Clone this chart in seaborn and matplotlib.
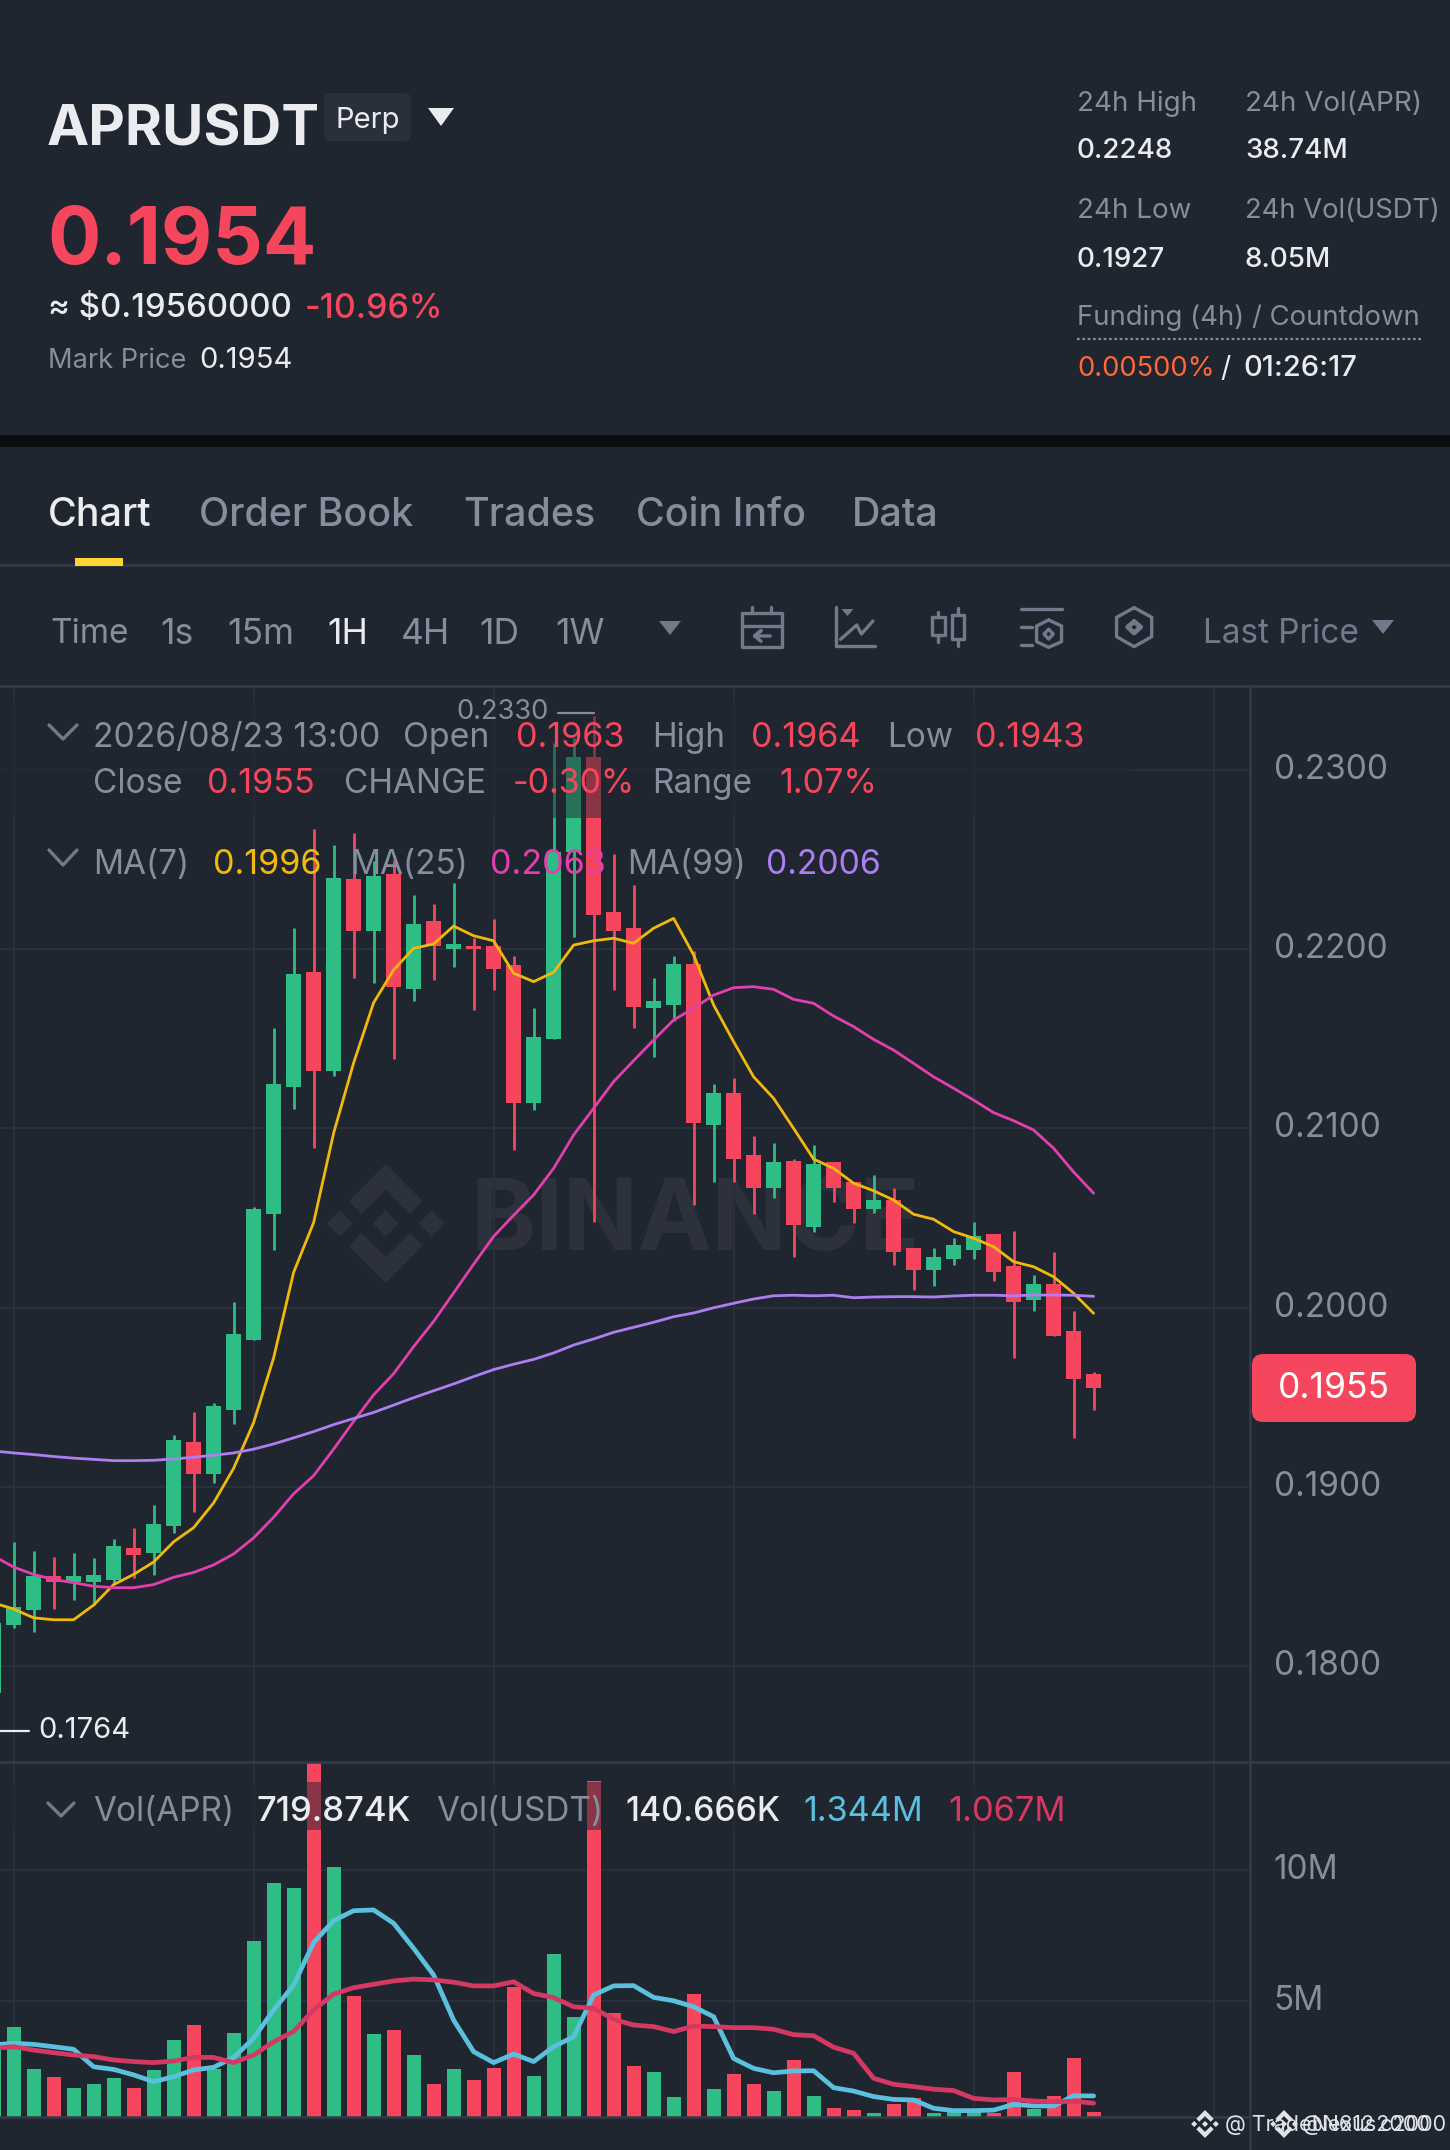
import numpy as np
import pandas as pd
import seaborn as sns
import matplotlib
import matplotlib.pyplot as plt
from matplotlib.patches import Polygon, Rectangle, FancyBboxPatch

matplotlib.use('Agg')

# hourly candles, first one is mostly cut off by the left edge
candle_idx = list(range(-1, 55))
candle_open = [.1785, .1823, .1831, .1850, .1847, .1847, .1848, .1866, .1863, .1878, .1925, .1907, .1943, .1982,
               .2052, .2123, .2187, .2132, .2239, .2210, .2242, .2178, .2216, .2200, .2202, .2202, .2191, .2114,
               .2150, .2254, .2307, .2221, .2212, .2167, .2169, .2192, .2102, .2120, .2085, .2067, .2082, .2045,
               .2081, .2070, .2055, .2060, .2033, .2021, .2027, .2032, .2041, .2023, .2004, .2013, .1987, .1963]
candle_high = [.1829, .1869, .1864, .1861, .1863, .1860, .1871, .1877, .1890, .1929, .1942, .1947, .2003, .2056,
               .2156, .2212, .2267, .2258, .2265, .2249, .2250, .2230, .2225, .2237, .2206, .2217, .2196, .2167,
               .2315, .2318, .2330, .2253, .2236, .2184, .2196, .2199, .2125, .2128, .2096, .2092, .2083, .2091,
               .2081, .2070, .2074, .2067, .2033, .2033, .2039, .2048, .2041, .2043, .2018, .2031, .1998, .1964]
candle_low = [.1764, .1821, .1819, .1832, .1837, .1834, .1846, .1849, .1851, .1874, .1886, .1902, .1935, .1982,
              .2032, .2111, .2089, .2129, .2184, .2181, .2139, .2171, .2183, .2190, .2166, .2177, .2088, .2110,
              .2150, .2207, .2048, .2177, .2156, .2140, .2160, .2057, .2070, .2070, .2052, .2061, .2028, .2042,
              .2059, .2047, .2053, .2024, .2010, .2012, .2024, .2027, .2015, .1972, .1998, .1984, .1927, .1943]
candle_close = [.1824, .1833, .1850, .1847, .1850, .1851, .1867, .1862, .1879, .1926, .1907, .1945, .1985, .2055,
                .2125, .2186, .2132, .2240, .2210, .2241, .2179, .2214, .2202, .2203, .2200, .2189, .2114, .2151,
                .2254, .2307, .2219, .2210, .2168, .2171, .2192, .2103, .2120, .2083, .2067, .2081, .2046, .2080,
                .2067, .2055, .2060, .2031, .2021, .2028, .2035, .2040, .2020, .2003, .2013, .1984, .1960, .1955]

ma7 = [.18352, .18318, .18269, .18258, .18258, .18340, .18454, .18511, .18580, .18693, .18772, .18910, .19103, .19358,
       .19719, .20196, .20474, .20973, .21365, .21701, .21884, .22005, .22029, .22129, .22075, .22047, .21866, .21819,
       .21871, .22023, .22047, .22061, .22033, .22117, .22172, .21968, .21689, .21484, .21288, .21168, .21000, .20829,
       .20777, .20694, .20652, .20600, .20521, .20493, .20424, .20387, .20340, .20256, .20228, .20172, .20080, .19968]
ma25 = [.18614, .18552, .18511, .18483, .18465, .18445, .18437, .18437, .18454, .18495, .18522, .18564, .18625, .18715,
        .18830, .18961, .19062, .19210, .19365, .19513, .19631, .19782, .19923, .20082, .20242, .20397, .20515, .20629,
        .20777, .20963, .21112, .21261, .21378, .21493, .21605, .21670, .21744, .21785, .21791, .21776, .21720, .21698,
        .21627, .21568, .21497, .21437, .21363, .21288, .21224, .21158, .21088, .21043, .20991, .20889, .20757, .20638]
ma99 = [.19200, .19189, .19180, .19169, .19160, .19153, .19146, .19146, .19148, .19155, .19165, .19176, .19189, .19210,
        .19239, .19273, .19308, .19347, .19381, .19415, .19456, .19497, .19536, .19574, .19615, .19654, .19684, .19711,
        .19747, .19791, .19825, .19862, .19890, .19918, .19949, .19970, .19999, .20024, .20048, .20066, .20069, .20066,
        .20069, .20055, .20059, .20061, .20061, .20059, .20065, .20069, .20069, .20066, .20070, .20070, .20069, .20063]

# volume in millions
volume = [3.23, 3.97, 2.36, 2.06, 1.66, 1.79, 2.02, 1.66, 2.34, 3.47, 4.05, 2.36, 3.75, 7.28, 9.49, 9.31, 14.09, 10.13,
          5.18, 3.73, 3.87, 2.91, 1.79, 2.38, 1.95, 2.41, 5.53, 2.09, 6.78, 4.36, 13.41, 4.53, 2.49, 2.25, 1.32, 5.26,
          1.60, 2.20, 1.79, 1.52, 2.72, 1.35, 0.87, 0.80, 0.68, 1.02, 1.26, 0.70, 0.74, 0.74, 0.70, 2.25, 0.84, 1.34,
          2.78, 0.72]
vol_ma_fast = [3.30, 3.36, 3.32, 3.23, 3.13, 2.46, 2.36, 2.15, 1.89, 2.08, 2.34, 2.44, 2.82, 3.55, 4.64, 5.59, 7.22,
               8.06, 8.44, 8.47, 7.96, 7.00, 5.98, 4.25, 3.04, 2.62, 2.95, 2.66, 3.23, 3.61, 5.21, 5.56, 5.57, 5.12,
               4.99, 4.76, 4.38, 2.78, 2.40, 2.23, 2.30, 2.31, 1.66, 1.53, 1.32, 1.21, 1.19, 0.87, 0.78, 0.78, 0.80,
               1.02, 0.96, 0.96, 1.35, 1.344]
vol_ma_slow = [3.17, 3.23, 3.10, 3.00, 2.91, 2.85, 2.72, 2.66, 2.62, 2.68, 2.82, 2.82, 2.62, 2.91, 3.42, 3.81, 4.64,
               5.24, 5.49, 5.62, 5.75, 5.82, 5.79, 5.70, 5.56, 5.56, 5.72, 5.27, 5.11, 4.76, 4.70, 4.28, 4.06, 4.00,
               3.81, 4.02, 4.00, 3.96, 3.96, 3.90, 3.69, 3.65, 3.21, 2.98, 2.02, 1.79, 1.70, 1.60, 1.55, 1.25, 1.19,
               1.21, 1.15, 1.12, 1.14, 1.067]

price_ticks = [.18, .19, .20, .21, .22, .23]
price_tick_labels = ['0.1800', '0.1900', '0.2000', '0.2100', '0.2200', '0.2300']
vol_ticks = [5, 10]
vol_tick_labels = ['5M', '10M']
grid_idx = [0, 12, 24, 36, 48, 60]

BG = '#1f2630'
GRID = '#2a303b'
LINE = '#343a47'
RED = '#f6465d'
GREEN = '#2ebd85'
GRAY = '#848e9c'
WHITE = '#eaecef'
YELLOW = '#f0b90b'
PINK = '#e33fae'
PURPLE = '#ad7ef0'
ICON = '#707a8a'
MARK = '#2c313c'
VOL_BLUE = '#5bc0de'
VOL_RED = '#d63864'

sns.set_theme(style='dark', rc={'figure.facecolor': BG, 'axes.facecolor': BG, 'savefig.facecolor': BG})
plt.rcParams['font.family'] = ['Inter', 'DejaVu Sans']

W, H = 1450, 2150
fig = plt.figure(figsize=(W / 100, H / 100), dpi=100)


def panel(top, bottom):
    return fig.add_axes([0, 1 - bottom / H, 1250 / W, (bottom - top) / H])


ax = panel(686, 1762)
vax = panel(1762, 2117)
ui = fig.add_axes([0, 0, 1, 1], zorder=5)
ui.set_xlim(0, W)
ui.set_ylim(H, 0)
ui.axis('off')
ui.patch.set_alpha(0)


def put(x, y, s, color=GRAY, size=24, weight='normal', ha='left'):
    ui.text(x, y + 3, s, color=color, fontsize=size, fontweight=weight, ha=ha, va='center')


def logo(target, cx, cy, scale, color, z=0.5):
    """Binance mark, scale 1 is 119 px tall"""
    top = [(0, -59.6), (36.8, -22.4), (24.3, -9.4), (0, -33.5), (-24.3, -9.4), (-36.8, -22.4)]
    bottom = [(x, -y) for x, y in top]
    diamonds = [[(dx - 13, 0), (dx, -13), (dx + 13, 0), (dx, 13)] for dx in (-46, 0, 46)]
    for shape in [top, bottom] + diamonds:
        pts = [(cx + x * scale, cy + y * scale) for x, y in shape]
        target.add_patch(Polygon(pts, closed=True, fc=color, ec='none', transform=ui.transData, zorder=z))


# price panel
idx = np.array(candle_idx)
c_open = np.array(candle_open)
c_close = np.array(candle_close)
colors = [GREEN if c >= o else RED for o, c in zip(c_open, c_close)]

logo(ax, 385.7, 1223.5, 1.0, MARK)
ax.text(471, 1224, 'BINANCE', color=MARK, fontsize=71, fontweight='bold', va='center', ha='left',
        transform=ui.transData, zorder=0.5, clip_on=True)
ax.vlines(idx, candle_low, candle_high, colors=colors, linewidth=2.0, zorder=2)
ax.bar(idx, np.abs(c_close - c_open), bottom=np.minimum(c_open, c_close), width=0.715, color=colors,
       edgecolor='none', linewidth=0, zorder=2)
sns.lineplot(x=idx, y=ma7, color=YELLOW, linewidth=2.0, errorbar=None, ax=ax, zorder=3)
sns.lineplot(x=idx, y=ma25, color=PINK, linewidth=2.0, errorbar=None, ax=ax, zorder=3)
sns.lineplot(x=idx, y=ma99, color=PURPLE, linewidth=2.0, errorbar=None, ax=ax, zorder=3)
ax.set_ylim(.23 - 992 / 17920, .23 + 84 / 17920)
ax.set_yticks(price_ticks, price_tick_labels)
ax.add_patch(Rectangle((0, 700), 1135, 118, fc=BG, alpha=0.5, ec='none', transform=ui.transData, zorder=4))

# volume panel
vol_df = pd.DataFrame({'idx': candle_idx, 'vol': volume,
                       'side': ['up' if c == GREEN else 'down' for c in colors]})
sns.barplot(data=vol_df, x='idx', y='vol', hue='side', palette={'up': GREEN, 'down': RED}, native_scale=True,
            dodge=False, width=0.7, saturation=1, legend=False, ax=vax, zorder=2, edgecolor='none', linewidth=0)
sns.lineplot(x=idx, y=vol_ma_fast, color=VOL_BLUE, linewidth=3.4, errorbar=None, ax=vax, zorder=3)
sns.lineplot(x=idx, y=vol_ma_slow, color=VOL_RED, linewidth=3.4, errorbar=None, ax=vax, zorder=3)
vax.set_ylim((2131 - 2117) / 26.1, (2131 - 1762) / 26.1)
vax.set_yticks(vol_ticks, vol_tick_labels)
vax.add_patch(Rectangle((0, 1782), 1105, 48, fc=BG, alpha=0.5, ec='none', transform=ui.transData, zorder=4))

for a in (ax, vax):
    a.set_xlim(-0.68, 61.82)
    a.set_xticks(grid_idx)
    a.tick_params(axis='x', length=0, labelbottom=False)
    a.yaxis.tick_right()
    a.tick_params(axis='y', length=0, pad=17, labelsize=24, labelcolor=GRAY)
    for lab in a.get_yticklabels():
        lab.set_va('center')
    a.grid(True, color=GRID, linewidth=1.5, zorder=0)
    a.set_axisbelow(True)
    a.set_xlabel('')
    a.set_ylabel('')
    for side in a.spines:
        a.spines[side].set_visible(False)

# header
ui.add_patch(Rectangle((0, 435), W, 12, fc='#0a0d0f', ec='none'))
put(47, 128, 'APRUSDT', WHITE, 40.7, 'bold')
ui.add_patch(FancyBboxPatch((324, 93), 87, 48, boxstyle='round,pad=0,rounding_size=6', fc='#292f3b', ec='none'))
put(367.5, 118, 'Perp', WHITE, 21, ha='center')
ui.add_patch(Polygon([(428, 108), (454, 108), (441, 126)], closed=True, fc=WHITE, ec='none', joinstyle='round'))
put(47, 240, '0.1954', RED, 57, 'bold')
put(48, 306, '≈ $0.19560000', WHITE, 23.7, 'medium')
put(305, 306, '-10.96%', RED, 24.4, 'medium')
put(48, 358, 'Mark Price', GRAY, 19.6)
put(199, 358, '0.1954', WHITE, 21)

put(1077, 101, '24h High', GRAY, 20)
put(1245, 101, '24h Vol(APR)', GRAY, 20)
put(1077, 148, '0.2248', WHITE, 20, 'medium')
put(1245, 148, '38.74M', WHITE, 20, 'medium')
put(1077, 208, '24h Low', GRAY, 20)
put(1245, 208, '24h Vol(USDT)', GRAY, 19.7)
put(1077, 257, '0.1927', WHITE, 20, 'medium')
put(1245, 257, '8.05M', WHITE, 20, 'medium')
put(1077, 315, 'Funding (4h) / Countdown', GRAY, 19.8)
ui.plot([1077, 1422], [339, 339], color=GRAY, linewidth=1.6, linestyle=(0, (1.2, 1.2)))
put(1077, 366, '0.00500%', '#ff6838', 19.7)
put(1225, 366, '/', WHITE, 20.5, ha='center')
put(1243, 366, '01:26:17', WHITE, 21, 'medium')

# tabs
for label, x, col in [('Chart', 48, WHITE), ('Order Book', 199, GRAY), ('Trades', 463, GRAY),
                      ('Coin Info', 636, GRAY), ('Data', 852, GRAY)]:
    put(x, 512, label, col, 28.4, 'medium')
ui.add_patch(Rectangle((75, 558), 48, 8, fc='#fcd535', ec='none'))
ui.plot([0, W], [565, 565], color=LINE, linewidth=1.8, zorder=0)
ui.plot([0, W], [686, 686], color=LINE, linewidth=1.8)
ui.plot([0, W], [1762, 1762], color=LINE, linewidth=1.8)
ui.plot([1250, 1250], [686, H], color=LINE, linewidth=1.8)
ui.plot([0, 1250], [2117, 2117], color=LINE, linewidth=1.8)

# toolbar
put(50, 631, 'Time', GRAY, 24)
for label, x, col in [('1s', 160, GRAY), ('15m', 227, GRAY), ('1H', 327, WHITE),
                      ('4H', 401, GRAY), ('1D', 479, GRAY), ('1W', 555, GRAY)]:
    put(x, 631, label, col, 25.5)
ui.add_patch(Polygon([(659, 621), (681, 621), (670, 635)], closed=True, fc=ICON, ec='none'))
put(1203, 631, 'Last Price', ICON, 24)
ui.add_patch(Polygon([(1372, 620), (1394, 620), (1383, 634)], closed=True, fc=ICON, ec='none'))


def stroke(xs, ys, lw=2.4):
    # icon coordinates come from the 2.163 x 3 zoom of the toolbar strip
    ui.plot([725 + x / 2.163 for x in xs], [540 + y / 3 for y in ys], color=ICON, linewidth=lw,
            solid_capstyle='round', solid_joinstyle='round')


stroke([36, 124, 124, 36, 36], [218, 218, 322, 322, 218])
stroke([36, 124], [258, 258])
stroke([58, 58], [200, 218])
stroke([100, 100], [200, 218])
stroke([98, 64, 78, 64, 78], [288, 288, 272, 288, 304])
stroke([240, 240, 325], [200, 318, 318])
stroke([250, 285, 295, 320], [298, 255, 282, 243])
ui.add_patch(Polygon([(725 + 252 / 2.163, 540 + 207 / 3), (725 + 278 / 2.163, 540 + 207 / 3),
                      (725 + 265 / 2.163, 540 + 228 / 3)], closed=True, fc=ICON, ec='none'))
stroke([447, 475, 475, 447, 447], [232, 232, 285, 285, 232])
stroke([461, 461], [215, 232])
stroke([461, 461], [285, 305])
stroke([490, 518, 518, 490, 490], [225, 225, 298, 298, 225])
stroke([504, 504], [205, 225])
stroke([504, 504], [298, 318])
stroke([640, 728], [207, 207])
stroke([640, 665], [260, 260])
stroke([640, 665], [314, 314])
stroke([700, 728, 728, 700, 674, 674, 700], [240, 258, 305, 322, 305, 258, 240])
stroke([700, 710, 700, 690, 700], [268, 282, 297, 282, 268])
stroke([885, 923, 923, 885, 847, 847, 885], [203, 232, 290, 320, 290, 232, 203])
stroke([885, 899, 885, 871, 885], [245, 261, 279, 261, 245], lw=3.5)

# legends over the chart
ui.plot([49, 63, 77], [725, 739, 725], color=ICON, linewidth=2.4)
ui.plot([49, 63, 77], [850, 865, 850], color=ICON, linewidth=2.4)
ui.plot([48, 61, 74], [1803, 1816, 1803], color=ICON, linewidth=2.4)
put(93, 735, '2026/08/23 13:00', GRAY, 24.3)
put(403, 735, 'Open', GRAY, 24.4)
put(516, 735, '0.1963', RED, 24.6)
put(652, 735, 'High')
put(751, 735, '0.1964', RED, 24.6)
put(887, 735, 'Low')
put(975, 735, '0.1943', RED, 24.6)
put(93, 781, 'Close')
put(207, 781, '0.1955', RED, 24.6)
put(344, 781, 'CHANGE')
put(513, 781, '-0.30%', RED, 24.4)
put(652, 781, 'Range')
put(779, 781, '1.07%', RED, 24.6)
put(93, 862, 'MA(7)')
put(213, 862, '0.1996', YELLOW, 24.6)
put(350, 862, 'MA(25)')
put(490, 862, '0.2063', PINK, 24.6)
put(627, 862, 'MA(99)')
put(766, 862, '0.2006', PURPLE, 24.2)
put(93, 1809, 'Vol(APR)')
put(257, 1809, '719.874K', WHITE, 25, 'medium')
put(436, 1809, 'Vol(USDT)')
put(625, 1809, '140.666K', WHITE, 24.3, 'medium')
put(803, 1809, '1.344M', VOL_BLUE, 24.6)
put(948, 1809, '1.067M', VOL_RED, 24.8)

# high / low markers and last price tag
put(456, 709, '0.2330', GRAY, 19.6)
ui.plot([558, 594], [713, 713], color=GRAY, linewidth=1.6)
ui.plot([0, 29], [1731, 1731], color=WHITE, linewidth=1.6)
put(38, 1728, '0.1764', WHITE, 21)
ui.add_patch(FancyBboxPatch((1252, 1354), 164, 68, boxstyle='round,pad=0,rounding_size=11', fc=RED, ec='none'))
put(1334, 1386, '0.1955', '#ffffff', 25.5, ha='center')

# screenshot watermarks in the corner
logo(ui, 1205, 2124, 0.235, '#dfe3e8', z=6)
logo(ui, 1284, 2124, 0.235, '#dfe3e8', z=6)
put(1225, 2122, '@ TradeNexus2000', '#dfe3e8', 15.5)
put(1302, 2122, '@N612 c2000', '#dfe3e8', 15.5)

fig.savefig('out.png', dpi=100)
